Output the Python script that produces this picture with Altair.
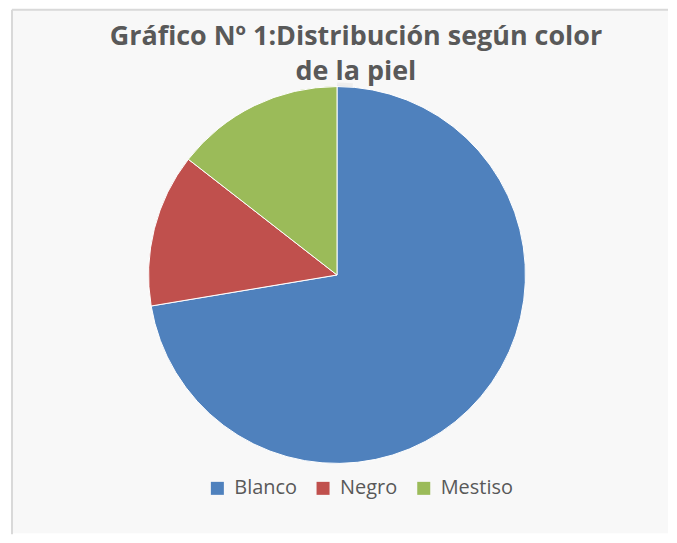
import altair as alt
import pandas as pd

categories = ["Blanco", "Negro", "Mestiso"]
values = [55, 10, 11]
colors = ["#4F81BD", "#C0504D", "#9BBB59"]
title_lines = ["Gráfico Nº 1:Distribución según color", "de la piel"]

df = pd.DataFrame({"cat": categories, "val": values, "ord": list(range(len(categories)))})

CX, CY, R = 326, 266, 189

shadow = alt.Chart(pd.DataFrame({"v": [1]})).mark_arc(
    color="#000000", opacity=0.04, radius=R + 5
).encode(theta=alt.Theta("v:Q"), x=alt.value(CX), y=alt.value(CY + 1))
shadow2 = alt.Chart(pd.DataFrame({"v": [1]})).mark_arc(
    color="#000000", opacity=0.05, radius=R + 2
).encode(theta=alt.Theta("v:Q"), x=alt.value(CX), y=alt.value(CY + 1))

pie = alt.Chart(df).mark_arc(radius=R, stroke="white", strokeWidth=1).encode(
    theta=alt.Theta("val:Q", stack=True),
    order=alt.Order("ord:Q"),
    color=alt.Color(
        "cat:N",
        scale=alt.Scale(domain=categories, range=colors),
        sort=categories,
        legend=alt.Legend(
            title=None,
            orient="none",
            direction="horizontal",
            legendX=196,
            legendY=470,
            symbolType="square",
            symbolSize=170,
            symbolStrokeWidth=0,
            labelFont="Open Sans",
            labelFontSize=20,
            labelColor="#595959",
            labelOffset=7,
            columnPadding=16,
            padding=0,
        ),
    ),
    x=alt.value(CX),
    y=alt.value(CY),
)

title1 = alt.Chart(pd.DataFrame({"t": [title_lines[0]]})).mark_text(
    font="Open Sans", fontWeight="bold", fontSize=27, color="#595959",
    align="center", baseline="alphabetic"
).encode(text="t:N", x=alt.value(345), y=alt.value(35))
title2 = alt.Chart(pd.DataFrame({"t": [title_lines[1]]})).mark_text(
    font="Open Sans", fontWeight="bold", fontSize=27, color="#595959",
    align="center", baseline="alphabetic"
).encode(text="t:N", x=alt.value(345), y=alt.value(70))

border_v = alt.Chart(pd.DataFrame({"v": [0]})).mark_rule(color="#d9d9d9", strokeWidth=2).encode(
    x=alt.value(0), y=alt.value(0), y2=alt.value(526))
border_h = alt.Chart(pd.DataFrame({"v": [0]})).mark_rule(color="#d9d9d9", strokeWidth=2).encode(
    y=alt.value(0), x=alt.value(0), x2=alt.value(658))

chart = alt.layer(shadow, shadow2, pie, title1, title2, border_v, border_h).properties(
    width=658, height=525, padding={"left": 3, "top": 0, "right": 0, "bottom": 0},
    background="white",
).configure_view(stroke=None, fill="#f8f8f8")

chart.save("out.html", embed_options={"renderer": "svg", "actions": False})
